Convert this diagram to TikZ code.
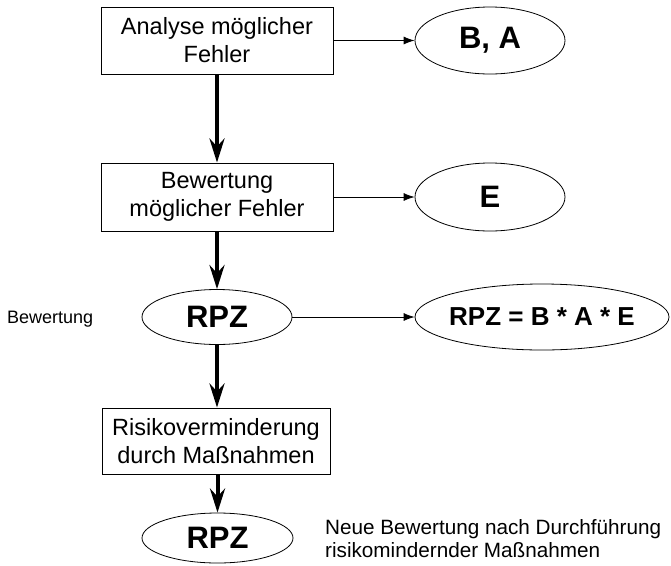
\documentclass[tikz,border=0pt]{standalone}
\usepackage{fontspec}
\setmainfont{Liberation Sans}
\usetikzlibrary{shapes.geometric,arrows.meta}
\begin{document}
\begin{tikzpicture}[x=1pt,y=-1pt,
  box/.style={draw, line width=0.9pt, minimum height=67pt, inner sep=0pt, align=center,
    font=\fontsize{23.5}{28}\selectfont},
  oval/.style={draw, ellipse, line width=0.8pt, inner sep=0pt,
    font=\bfseries\fontsize{31}{36}\selectfont},
  bigarrow/.style={-{Stealth[length=24pt,width=15pt,inset=8pt]}, line width=4pt},
  smallarrow/.style={-{Latex[length=11pt,width=8pt]}, line width=0.8pt},
  plain/.style={inner sep=0pt}
]
\useasboundingbox (0,0) rectangle (671,565);

\node[box, minimum width=232pt] (b1) at (217,40.5) {Analyse möglicher\\Fehler};
\node[oval, minimum width=150pt, minimum height=67pt] (ba) at (490,40.5) {\makebox[0pt]{B, A}};

\node[box, minimum width=232pt, minimum height=68pt] (b2) at (217,197) {Bewertung\\möglicher Fehler};
\node[oval, minimum width=150pt, minimum height=68pt] (e) at (490,197) {\makebox[0pt]{E}};

\node[oval, minimum width=150pt, minimum height=55pt] (r1) at (217,317) {\makebox[0pt]{RPZ}};
\node[oval, minimum width=254pt, minimum height=66pt, font=\bfseries\fontsize{26}{30}\selectfont] (f) at (542,317) {\makebox[0pt]{RPZ = B * A * E}};
\node[plain, anchor=base west, font=\fontsize{18}{21}\selectfont] (bl) at (7,323) {Bewertung};

\node[box, minimum width=228pt, minimum height=66pt] (b3) at (216,441) {Risikoverminderung\\durch Maßnahmen};
\node[oval, minimum width=151pt, minimum height=50pt] (r2) at (217.5,538) {\makebox[0pt]{RPZ}};
\node[plain, anchor=west, align=left, font=\fontsize{20.7}{23}\selectfont] (nt) at (325,539)
  {Neue Bewertung nach Durchführung\\risikomindernder Maßnahmen};

\draw[bigarrow] (b1.south) -- (b2.north);
\draw[bigarrow] (b2.south) -- (r1.north);
\draw[bigarrow] (r1.south) -- (b3.north -| r1.south);
\draw[bigarrow] (b3.south -| r2.north) -- (r2.north);

\draw[smallarrow] (b1.east) -- (ba.west);
\draw[smallarrow] (b2.east) -- (e.west);
\draw[smallarrow] (r1.east) -- (f.west);
\end{tikzpicture}
\end{document}
